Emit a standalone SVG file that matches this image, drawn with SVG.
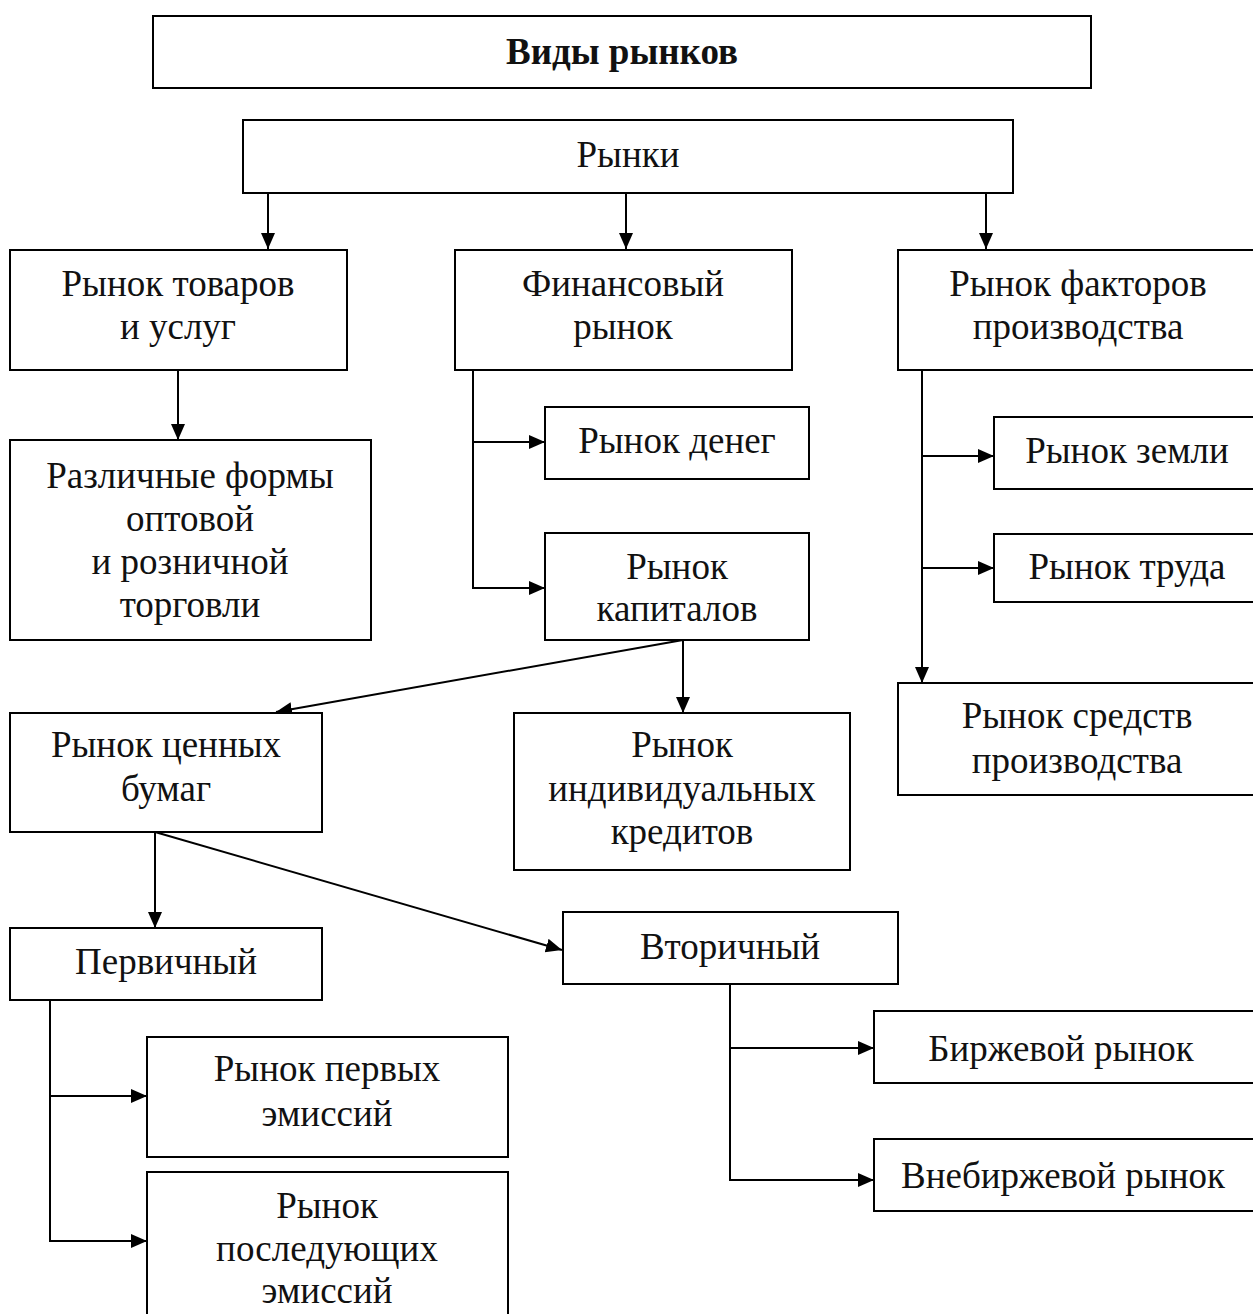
<svg xmlns="http://www.w3.org/2000/svg" width="1253" height="1314" viewBox="0 0 1253 1314">
<style>
.box{fill:#fff;stroke:#000;stroke-width:2}
.t{font-family:"Liberation Serif","Times New Roman",serif;font-size:37px;fill:#111;text-anchor:middle}
.b{font-weight:bold}
.c{fill:none;stroke:#000;stroke-width:2}
</style>
<defs>
<marker id="ah" markerUnits="userSpaceOnUse" markerWidth="18" markerHeight="16" refX="16" refY="7" orient="auto">
<path d="M0,0 L16,7 L0,14 z" fill="#000"/>
</marker>
</defs>
<rect width="1253" height="1314" fill="#fff"/>
<g id="connectors">
<line class="c" x1="268" y1="193" x2="268" y2="249" marker-end="url(#ah)"/>
<line class="c" x1="626" y1="193" x2="626" y2="249" marker-end="url(#ah)"/>
<line class="c" x1="986" y1="193" x2="986" y2="249" marker-end="url(#ah)"/>
<line class="c" x1="178" y1="370" x2="178" y2="440" marker-end="url(#ah)"/>
<polyline class="c" points="473,370 473,588 545,588" marker-end="url(#ah)"/>
<line class="c" x1="473" y1="442" x2="545" y2="442" marker-end="url(#ah)"/>
<line class="c" x1="922" y1="370" x2="922" y2="683" marker-end="url(#ah)"/>
<line class="c" x1="922" y1="456" x2="994" y2="456" marker-end="url(#ah)"/>
<line class="c" x1="922" y1="568" x2="994" y2="568" marker-end="url(#ah)"/>
<line class="c" x1="683" y1="640" x2="276" y2="712" marker-end="url(#ah)"/>
<line class="c" x1="683" y1="640" x2="683" y2="713" marker-end="url(#ah)"/>
<line class="c" x1="155" y1="832" x2="155" y2="928" marker-end="url(#ah)"/>
<line class="c" x1="155" y1="832" x2="562" y2="950" marker-end="url(#ah)"/>
<polyline class="c" points="50,1000 50,1241 147,1241" marker-end="url(#ah)"/>
<line class="c" x1="50" y1="1096" x2="147" y2="1096" marker-end="url(#ah)"/>
<polyline class="c" points="730,984 730,1180 874,1180" marker-end="url(#ah)"/>
<line class="c" x1="730" y1="1048" x2="874" y2="1048" marker-end="url(#ah)"/>
</g>
<g id="title"><rect class="box" x="153" y="16" width="938" height="72"/><text class="t b" x="622" y="64">Виды рынков</text></g>
<g id="markets"><rect class="box" x="243" y="120" width="770" height="73"/><text class="t" x="628" y="167">Рынки</text></g>
<g id="goods"><rect class="box" x="10" y="250" width="337" height="120"/><text class="t" x="178" y="296">Рынок товаров</text><text class="t" x="178" y="339">и услуг</text></g>
<g id="trade"><rect class="box" x="10" y="440" width="361" height="200"/><text class="t" x="190" y="488">Различные формы</text><text class="t" x="190" y="531">оптовой</text><text class="t" x="190" y="574">и розничной</text><text class="t" x="190" y="617">торговли</text></g>
<g id="financial"><rect class="box" x="455" y="250" width="337" height="120"/><text class="t" x="623" y="296">Финансовый</text><text class="t" x="623" y="339">рынок</text></g>
<g id="money"><rect class="box" x="545" y="407" width="264" height="72"/><text class="t" x="677" y="453">Рынок денег</text></g>
<g id="capital"><rect class="box" x="545" y="533" width="264" height="107"/><text class="t" x="677" y="579">Рынок</text><text class="t" x="677" y="621">капиталов</text></g>
<g id="factors"><rect class="box" x="898" y="250" width="362" height="120"/><text class="t" x="1078" y="296">Рынок факторов</text><text class="t" x="1078" y="339">производства</text></g>
<g id="land"><rect class="box" x="994" y="417" width="266" height="72"/><text class="t" x="1127" y="463">Рынок земли</text></g>
<g id="labour"><rect class="box" x="994" y="534" width="266" height="68"/><text class="t" x="1127" y="579">Рынок труда</text></g>
<g id="means"><rect class="box" x="898" y="683" width="362" height="112"/><text class="t" x="1077" y="728">Рынок средств</text><text class="t" x="1077" y="773">производства</text></g>
<g id="securities"><rect class="box" x="10" y="713" width="312" height="119"/><text class="t" x="166" y="757">Рынок ценных</text><text class="t" x="166" y="801">бумаг</text></g>
<g id="credits"><rect class="box" x="514" y="713" width="336" height="157"/><text class="t" x="682" y="757">Рынок</text><text class="t" x="682" y="801">индивидуальных</text><text class="t" x="682" y="844">кредитов</text></g>
<g id="primary"><rect class="box" x="10" y="928" width="312" height="72"/><text class="t" x="166" y="974">Первичный</text></g>
<g id="secondary"><rect class="box" x="563" y="912" width="335" height="72"/><text class="t" x="730" y="959">Вторичный</text></g>
<g id="first-issues"><rect class="box" x="147" y="1037" width="361" height="120"/><text class="t" x="327" y="1081">Рынок первых</text><text class="t" x="327" y="1126">эмиссий</text></g>
<g id="next-issues"><rect class="box" x="147" y="1172" width="361" height="160"/><text class="t" x="327" y="1218">Рынок</text><text class="t" x="327" y="1261">последующих</text><text class="t" x="327" y="1303">эмиссий</text></g>
<g id="exchange"><rect class="box" x="874" y="1011" width="386" height="72"/><text class="t" x="1061" y="1061">Биржевой рынок</text></g>
<g id="otc"><rect class="box" x="874" y="1139" width="386" height="72"/><text class="t" x="1063" y="1188">Внебиржевой рынок</text></g>
</svg>
